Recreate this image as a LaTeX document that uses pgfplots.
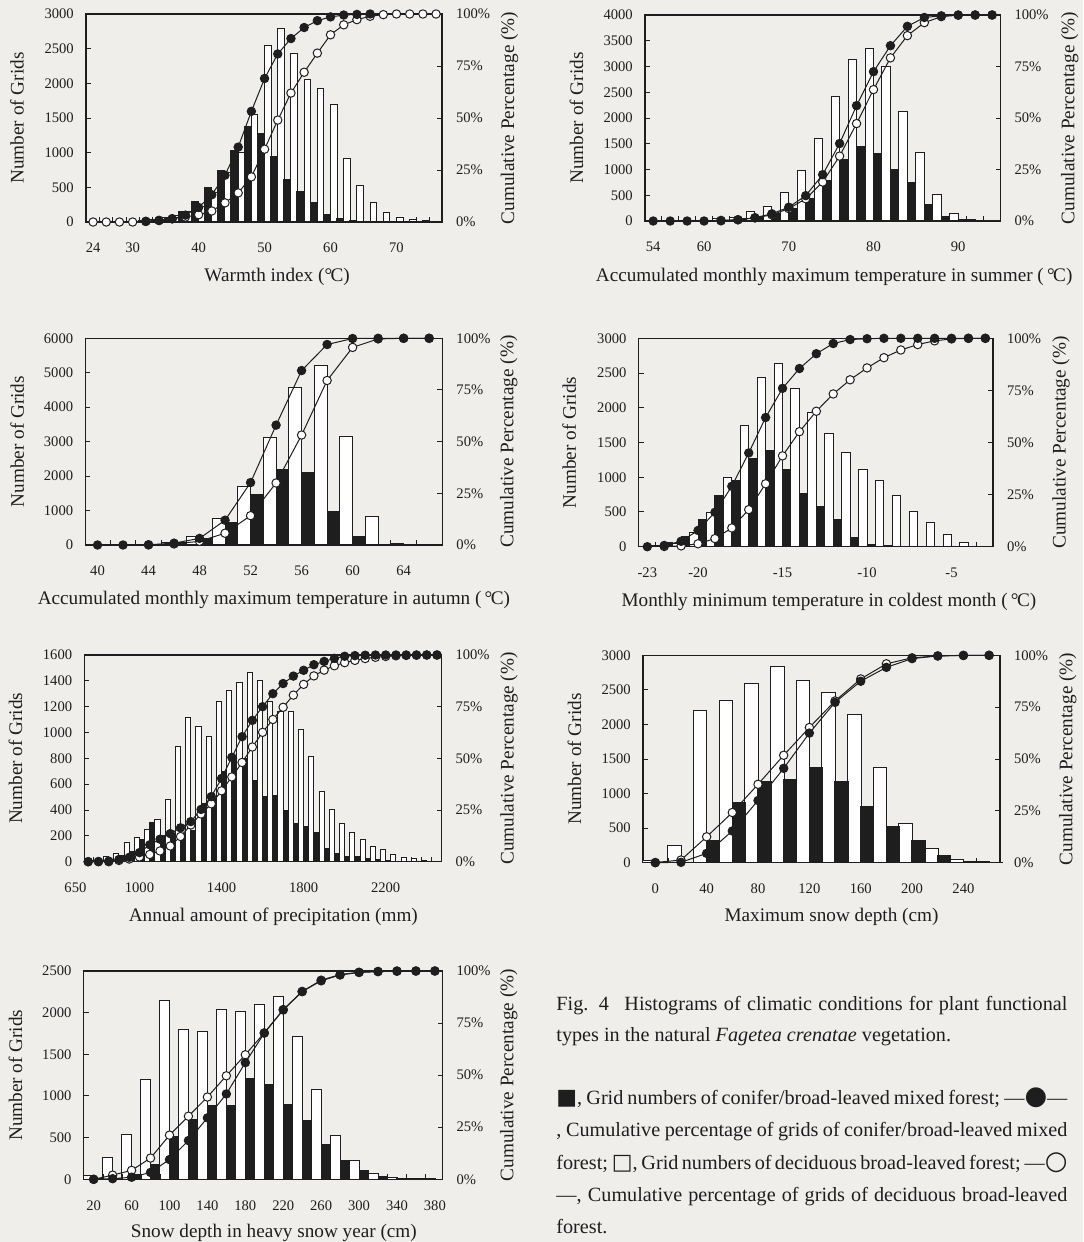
\documentclass[border=0pt]{standalone}
\usepackage{pgfplots}
\pgfplotsset{compat=1.18}
\usepackage{fontspec}
\setmainfont{Liberation Serif}
\newfontfamily\sym{DejaVu Sans}
\definecolor{bg}{RGB}{239,238,235}
\definecolor{ink}{RGB}{30,30,30}
\newcommand\ticksize{\fontsize{7.3}{8}\selectfont}
\newcommand\labsize{\fontsize{9.6}{11}\selectfont}
\newcommand\capsize{\fontsize{10.1}{12}\selectfont}
\newcommand\degC{\textdegree\kern-0.08em C}

\pgfplotsset{
 common/.style={scale only axis, clip=false, tick align=inside, major tick length=2.5pt,
   axis line style={line width=0.6pt, draw=ink, -},
   every outer x axis line/.append style={-},
   every outer y axis line/.append style={-},
   tick style={line width=0.5pt, draw=ink},
   tick label style={font=\ticksize, text=ink},
   label style={font=\labsize, text=ink},
   scaled ticks=false,
   /pgf/number format/1000 sep={},
   /pgf/number format/assume math mode=true,
   ymin=0},
 barax/.style={common, ytick pos=left, xtick style={draw=none},
   xticklabel style={anchor=center, yshift=-13pt},
   yticklabel style={anchor=east, xshift=-2.6pt},
   ylabel={Number of Grids}},
 pctax/.style={common, axis y line*=right, axis x line*=bottom, ymax=100,
   ytick={0,25,50,75,100}, yticklabels={0\%,25\%,50\%,75\%,100\%},
   xticklabel={\mbox{}}, yticklabel style={anchor=west, xshift=3.5pt},
   ylabel={Cumulative Percentage (\%)}},
 wbar/.style={ybar, fill=white, draw=ink, line width=0.5pt},
 bbar/.style={ybar, fill=ink, draw=ink, line width=0.5pt},
 wline/.style={draw=ink, line width=0.5pt, mark=*, mark size=2.1pt, mark options={fill=white, draw=ink, line width=0.5pt, solid}},
 bline/.style={draw=ink, line width=0.5pt, mark=*, mark size=2.1pt, mark options={fill=ink, draw=ink, solid}},
}

\begin{document}
\begin{tikzpicture}
\useasboundingbox (0,0) rectangle (541.5pt,-621pt);
\fill[bg] (0,0) rectangle (541.5pt,-621pt);

% ---------------- Panel 1: Warmth index
\begin{axis}[barax, at={(43pt,-111pt)}, anchor=south west, width=178pt, height=104pt,
 xmin=22.93, xmax=76.9, ymax=3000, ytick={0,500,...,3000},
 xtick={24,30,40,50,60,70},
 xlabel={Warmth index (\degC)},
 xlabel style={at={(axis description cs:0.537,-0.264)}, anchor=center},
 ylabel style={at={(axis description cs:-0.194,0.5)}, anchor=center}]
\addplot[wbar, bar width=1, bar shift=0.5] coordinates {(30,10) (32,40) (34,60) (36,100) (38,150) (40,220) (42,420) (44,720) (46,998) (48,1544) (50,2542) (52,2798) (54,2436) (56,2050) (58,1920) (60,1698) (62,917) (64,531) (66,280) (68,130) (70,72) (72,40) (74,25) (76,5)};
\addplot[bbar, bar width=1.1, bar shift=-0.55] coordinates {(30,5) (32,20) (34,30) (36,60) (38,150) (40,289) (42,492) (44,748) (46,1027) (48,1384) (50,1278) (52,941) (54,617) (56,434) (58,280) (60,111) (62,48) (64,20) (66,10) (68,5) (70,3) (72,8) (74,10)};
\end{axis}
\begin{axis}[pctax, at={(43pt,-111pt)}, anchor=south west, width=178pt, height=104pt,
 xmin=22.93, xmax=76.9, xtick={25,27,...,75},
 ylabel style={at={(axis description cs:1.19,0.5)}, anchor=center}]
\addplot[wline] coordinates {(24,0) (26,0) (28,0) (30,0) (32,0.3) (34,0.8) (36,1.6) (38,2.4) (40,3.5) (42,5.3) (44,9.2) (46,14.0) (48,21.7) (50,35.0) (52,49.0) (54,62.0) (56,72.0) (58,81.2) (60,90.0) (62,94.8) (64,97.3) (66,98.9) (68,99.7) (70,100) (72,100) (74,100) (76,100)};
\addplot[bline] coordinates {(32,0.3) (34,0.7) (36,1.5) (38,3.3) (40,7.0) (42,13.1) (44,22.5) (46,36.0) (48,53.2) (50,69.0) (52,80.8) (54,88.2) (56,93.5) (58,96.8) (60,98.6) (62,99.5) (64,99.8) (66,100)};
\end{axis}

% ---------------- Panel 2: summer
\begin{axis}[barax, at={(322.5pt,-110.5pt)}, anchor=south west, width=177.75pt, height=103pt,
 xmin=53.03, xmax=94.99, ymax=4000, ytick={0,500,...,4000},
 xtick={54,60,70,80,90},
 xlabel={Accumulated monthly maximum temperature in summer (\,\degC)},
 xlabel style={at={(axis description cs:0.532,-0.272)}, anchor=center},
 ylabel style={at={(axis description cs:-0.193,0.5)}, anchor=center}]
\addplot[wbar, bar width=1, bar shift=-0.5] coordinates {(60,10) (62,40) (64,60) (66,188) (68,285) (70,550) (72,971) (74,1599) (76,2408) (78,3139) (80,3359) (82,3003) (84,2117) (86,1327) (88,511) (90,142) (92,20)};
\addplot[bbar, bar width=1, bar shift=0.5] coordinates {(62,10) (64,40) (66,80) (68,150) (70,250) (72,430) (74,790) (76,1197) (78,1437) (80,1307) (82,1003) (84,757) (86,317) (88,78) (90,30) (92,10)};
\end{axis}
\begin{axis}[pctax, at={(322.5pt,-110.5pt)}, anchor=south west, width=177.75pt, height=103pt,
 xmin=53.03, xmax=94.99, xtick={55,57,...,93},
 ylabel style={at={(axis description cs:1.195,0.5)}, anchor=center}]
\addplot[wline] coordinates {(62,0.3) (64,0.6) (66,1.5) (68,3.0) (70,6.0) (72,10.8) (74,18.9) (76,31.5) (78,47.3) (80,63.8) (82,79.2) (84,90.0) (86,96.3) (88,99.2) (90,99.9) (92,100) (94,100)};
\addplot[bline] coordinates {(54,0) (56,0) (58,0) (60,0) (62,0.1) (64,0.6) (66,1.6) (68,3.5) (70,6.7) (72,12.3) (74,22.5) (76,37.6) (78,56.0) (80,72.5) (82,85.1) (84,94.5) (86,98.8) (88,99.6) (90,100) (92,100) (94,100)};
\end{axis}

% ---------------- Panel 3: autumn
\begin{axis}[barax, at={(42.7pt,-272.5pt)}, anchor=south west, width=178.5pt, height=103.35pt,
 xmin=39.05, xmax=67.04, ymax=6000, ytick={0,1000,...,6000},
 xtick={40,44,48,52,56,60,64},
 xlabel={Accumulated monthly maximum temperature in autumn (\,\degC)},
 xlabel style={at={(axis description cs:0.528,-0.266)}, anchor=center},
 ylabel style={at={(axis description cs:-0.191,0.5)}, anchor=center}]
\addplot[wbar, bar width=1, bar shift=-0.5] coordinates {(44,20) (46,70) (48,261) (50,755) (52,1694) (54,3126) (56,4577) (58,5207) (60,3145) (62,823) (64,50)};
\addplot[bbar, bar width=1, bar shift=0.5] coordinates {(44,10) (46,60) (48,194) (50,658) (52,1471) (54,2206) (56,2100) (58,987) (60,261) (62,5)};
\end{axis}
\begin{axis}[pctax, at={(42.7pt,-272.5pt)}, anchor=south west, width=178.5pt, height=103.35pt,
 xmin=39.05, xmax=67.04, xtick={41,43,...,65},
 ylabel style={at={(axis description cs:1.186,0.5)}, anchor=center}]
\addplot[wline] coordinates {(44,0.1) (46,0.5) (48,1.8) (50,5.7) (52,14.2) (54,30.0) (56,53.2) (58,79.6) (60,95.6) (62,99.7) (64,100) (66,100)};
\addplot[bline] coordinates {(40,0) (42,0) (44,0.1) (46,0.9) (48,3.2) (50,12.0) (52,30.2) (54,58.0) (56,84.4) (58,97.0) (60,99.9) (62,100) (64,100) (66,100)};
\end{axis}

% ---------------- Panel 4: coldest month
\begin{axis}[barax, at={(319.35pt,-273.35pt)}, anchor=south west, width=177.15pt, height=104.2pt,
 xmin=-23.51, xmax=-2.545, ymax=3000, ytick={0,500,...,3000},
 xtick={-23,-20,-15,-10,-5}, xticklabels={-23,-20,-15,-10,-5},
 xlabel={Monthly minimum temperature in coldest month (\,\degC)},
 xlabel style={at={(axis description cs:0.537,-0.264)}, anchor=center},
 ylabel style={at={(axis description cs:-0.196,0.5)}, anchor=center}]
\addplot[wbar, bar width=0.5, bar shift=-0.25] coordinates {(-22,20) (-21,50) (-20,211) (-19,490) (-18,998) (-17,1738) (-16,2438) (-15,2640) (-14,2280) (-13,1930) (-12,1632) (-11,1354) (-10,1114) (-9,960) (-8,744) (-7,504) (-6,346) (-5,182) (-4,62)};
\addplot[bbar, bar width=0.5, bar shift=0.25] coordinates {(-23,20) (-22,58) (-21,144) (-20,398) (-19,744) (-18,946) (-17,1272) (-16,1378) (-15,1118) (-14,768) (-13,586) (-12,398) (-11,130) (-10,38) (-9,12)};
\end{axis}
\begin{axis}[pctax, at={(319.35pt,-273.35pt)}, anchor=south west, width=177.15pt, height=104.2pt,
 xmin=-23.51, xmax=-2.545, xtick={-22.5,-21.5,...,-3.5},
 ylabel style={at={(axis description cs:1.192,0.5)}, anchor=center}]
\addplot[wline] coordinates {(-22,0.1) (-21,0.4) (-20,1.4) (-19,3.9) (-18,9.0) (-17,17.8) (-16,30.2) (-15,43.6) (-14,55.2) (-13,65.0) (-12,73.3) (-11,80.1) (-10,85.8) (-9,90.7) (-8,94.4) (-7,97.0) (-6,98.8) (-5,99.7) (-4,100) (-3,100)};
\addplot[bline] coordinates {(-23,0) (-22,0.6) (-21,2.6) (-20,7.8) (-19,16.5) (-18,29.0) (-17,45.0) (-16,62.0) (-15,76.0) (-14,85.5) (-13,92.6) (-12,97.5) (-11,99.4) (-10,99.8) (-9,100) (-8,100) (-7,100) (-6,100) (-5,100) (-4,100) (-3,100)};
\end{axis}

% ---------------- Panel 5: precipitation
\begin{axis}[barax, at={(42.2pt,-430.85pt)}, anchor=south west, width=178.55pt, height=103.35pt,
 xmin=731.5, xmax=2472, ymax=1600, ytick={0,200,...,1600},
 xtick={731.5,1000,1400,1800,2200}, xticklabels={\makebox[0pt]{\hspace*{-9pt}650},1000,1400,1800,2200},
 xlabel={Annual amount of precipitation (mm)},
 xlabel style={at={(axis description cs:0.529,-0.266)}, anchor=center},
 ylabel style={at={(axis description cs:-0.193,0.5)}, anchor=center}]
\addplot[wbar, bar width=25, bar shift=-12.5] coordinates {(800,10) (850,40) (900,65) (950,150) (1000,185) (1050,250) (1100,330) (1150,480) (1200,895) (1250,1117) (1300,1045) (1350,968) (1400,1244) (1450,1329) (1500,1388) (1550,1466) (1600,1406) (1650,1239) (1700,1166) (1750,1166) (1800,1025) (1850,813) (1900,547) (1950,405) (2000,297) (2050,225) (2100,173) (2150,116) (2200,95) (2250,52) (2300,34) (2350,26) (2400,13) (2450,5)};
\addplot[bbar, bar width=25, bar shift=12.5] coordinates {(750,10) (800,10) (850,20) (900,50) (950,80) (1000,175) (1050,302) (1100,200) (1150,210) (1200,220) (1250,240) (1300,450) (1350,490) (1400,700) (1450,800) (1500,800) (1550,632) (1600,508) (1650,511) (1700,400) (1750,292) (1800,271) (1850,225) (1900,106) (1950,65) (2000,39) (2050,39) (2100,26) (2150,18) (2200,10) (2250,5) (2300,3)};
\end{axis}
\begin{axis}[pctax, at={(42.2pt,-430.85pt)}, anchor=south west, width=178.55pt, height=103.35pt,
 xmin=731.5, xmax=2472, xtick={775,825,...,2425},
 ylabel style={at={(axis description cs:1.189,0.5)}, anchor=center}]
\addplot[wline] coordinates {(750,0) (800,0.1) (850,0.3) (900,0.6) (950,1.3) (1000,2.3) (1050,3.5) (1100,5.2) (1150,7.6) (1200,12.2) (1250,17.8) (1300,23.1) (1350,28.0) (1400,34.3) (1450,41.0) (1500,48.0) (1550,55.5) (1600,62.6) (1650,68.8) (1700,74.7) (1750,80.6) (1800,85.8) (1850,89.9) (1900,92.7) (1950,94.8) (2000,96.3) (2050,97.4) (2100,98.3) (2150,98.9) (2200,99.3) (2250,99.6) (2300,99.8) (2350,99.9) (2400,100) (2450,100)};
\addplot[bline] coordinates {(750,0) (800,0) (850,0) (900,1.1) (950,2.1) (1000,4.4) (1050,8.2) (1100,10.9) (1150,13.6) (1200,16.4) (1250,19.4) (1300,25.3) (1350,31.5) (1400,40.3) (1450,50.5) (1500,60.5) (1550,68.4) (1600,75.0) (1650,81.3) (1700,86.2) (1750,89.8) (1800,92.6) (1850,95.3) (1900,96.9) (1950,98.4) (2000,99.4) (2050,99.7) (2100,99.9) (2150,100) (2200,100) (2250,100) (2300,100) (2350,100) (2400,100) (2450,100)};
\end{axis}

% ---------------- Panel 6: maximum snow depth
\begin{axis}[barax, at={(321.5pt,-431.35pt)}, anchor=south west, width=178.5pt, height=103.7pt,
 xmin=-9.58, xmax=268.5, ymax=3000, ytick={0,500,...,3000},
 xtick={0,40,...,240},
 xlabel={Maximum snow depth (cm)},
 xlabel style={at={(axis description cs:0.528,-0.26)}, anchor=center},
 ylabel style={at={(axis description cs:-0.192,0.5)}, anchor=center}]
\addplot[wbar, bar width=10.5, bar shift=-5] coordinates {(0,25) (20,242) (40,2196) (60,2341) (80,2593) (100,2835) (120,2632) (140,2462) (160,2142) (180,1372) (200,567) (220,208) (240,48) (260,15)};
\addplot[bbar, bar width=10.5, bar shift=5] coordinates {(0,10) (20,5) (40,325) (60,872) (80,1173) (100,1197) (120,1381) (140,1173) (160,814) (180,519) (200,325) (220,107) (240,15) (260,5)};
\end{axis}
\begin{axis}[pctax, at={(321.5pt,-431.35pt)}, anchor=south west, width=178.5pt, height=103.7pt,
 xmin=-9.58, xmax=268.5, xtick={10,30,...,250},
 ylabel style={at={(axis description cs:1.19,0.5)}, anchor=center}]
\addplot[wline] coordinates {(0,0.1) (20,1.3) (40,12.5) (60,24.2) (80,37.8) (100,51.8) (120,65.2) (140,78.0) (160,88.6) (180,95.9) (200,98.8) (220,99.7) (240,99.9) (260,100)};
\addplot[bline] coordinates {(0,0) (20,0.2) (40,4.5) (60,15.3) (80,30.0) (100,45.5) (120,62.5) (140,77.3) (160,87.5) (180,94.2) (200,98.4) (220,99.7) (240,100) (260,100)};
\end{axis}

% ---------------- Panel 7: snow depth in heavy snow year
\begin{axis}[barax, at={(41.85pt,-589.65pt)}, anchor=south west, width=179.4pt, height=104.15pt,
 xmin=9.49, xmax=388.05, ymax=2500, ytick={0,500,...,2500},
 xtick={20,60,...,380},
 xlabel={Snow depth in heavy snow year (cm)},
 xlabel style={at={(axis description cs:0.53,-0.258)}, anchor=center},
 ylabel style={at={(axis description cs:-0.19,0.5)}, anchor=center}]
\addplot[wbar, bar width=10.5, bar shift=-5] coordinates {(20,40) (40,260) (60,532) (80,1192) (100,2144) (120,1804) (140,1772) (160,2044) (180,2020) (200,2104) (220,2200) (240,1712) (260,1072) (280,520) (300,224) (320,72) (340,20) (360,12) (380,5)};
\addplot[bbar, bar width=9.5, bar shift=4.75] coordinates {(20,10) (40,15) (60,52) (80,172) (100,512) (120,720) (140,884) (160,884) (180,1204) (200,1132) (220,900) (240,704) (260,420) (280,224) (300,104) (320,32) (340,12) (360,8)};
\end{axis}
\begin{axis}[pctax, at={(41.85pt,-589.65pt)}, anchor=south west, width=179.4pt, height=104.15pt,
 xmin=9.49, xmax=388.05, xtick={30,50,...,370},
 ylabel style={at={(axis description cs:1.185,0.5)}, anchor=center}]
\addplot[wline] coordinates {(20,0) (40,2.0) (60,4.3) (80,10.2) (100,21.2) (120,30.3) (140,39.5) (160,49.7) (180,59.8) (200,70.3) (220,81.5) (240,90.2) (260,95.6) (280,98.3) (300,99.4) (320,99.8) (340,100) (360,100) (380,100)};
\addplot[bline] coordinates {(20,0) (40,0.3) (60,1.0) (80,3.3) (100,9.5) (120,18.6) (140,29.5) (160,41.0) (180,56.0) (200,70.2) (220,81.3) (240,90.1) (260,95.3) (280,98.1) (300,99.3) (320,99.7) (340,99.9) (360,100) (380,100)};
\end{axis}

% ---------------- Caption
\begin{scope}[every node/.style={anchor=base west, inner sep=0pt, font=\capsize, text=ink}]
\node at (278pt,-505.35pt) {\makebox[255.5pt][s]{Fig. 4\hspace{0.45em} Histograms of climatic conditions for plant functional}};
\node at (278pt,-520.85pt) {types in the natural \textit{Fagetea crenatae} vegetation.};
\node at (278pt,-552pt) {\makebox[255.5pt][s]{{\sym\fontsize{11}{11}\selectfont ■}, Grid numbers of conifer/broad-leaved mixed forest; —{\sym\fontsize{13}{13}\selectfont ●}—}};
\node at (278pt,-568.35pt) {\makebox[255.5pt][s]{, Cumulative percentage of grids of conifer/broad-leaved mixed}};
\node at (278pt,-584.5pt) {\makebox[255.5pt][s]{forest; {\sym\fontsize{11}{11}\selectfont □}, Grid numbers of deciduous broad-leaved forest; —{\sym\fontsize{13}{13}\selectfont ○}}};
\node at (278pt,-600.85pt) {\makebox[255.5pt][s]{—, Cumulative percentage of grids of deciduous broad-leaved}};
\node at (278pt,-616.65pt) {forest.};
\end{scope}
\end{tikzpicture}
\end{document}
